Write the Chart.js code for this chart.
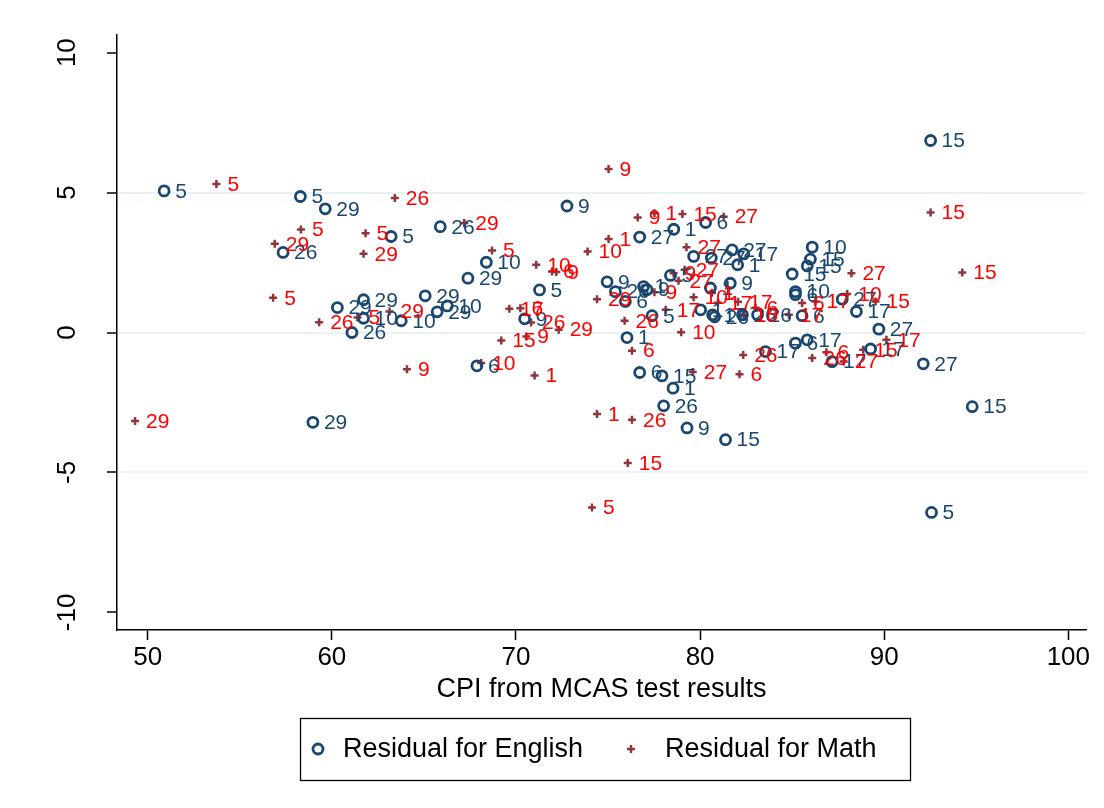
<!DOCTYPE html>
<html>
<head>
<meta charset="utf-8">
<script src="https://cdn.jsdelivr.net/npm/chart.js@4.4.0/dist/chart.umd.min.js"></script>
<style>
body { margin: 0; background: #fff; }
</style>
</head>
<body>
<canvas id="chart" width="1104" height="808"></canvas>
<script>
// English residuals (blue circles)
const engX = [50.89, 58.29, 59.64, 63.22, 65.89, 57.35, 60.30, 61.72, 61.72, 61.09,
  63.77, 65.07, 65.72, 66.27, 67.39, 68.39, 71.28, 70.47, 67.88, 58.97,
  72.77, 76.72, 78.57, 80.30, 74.95, 75.40, 75.94, 76.93, 77.12, 77.39,
  76.03, 76.72, 77.93, 78.53, 78.02, 79.29, 81.38, 79.65, 80.61, 81.74,
  82.37, 82.04, 78.39, 80.56, 81.64, 80.03, 80.68, 80.79, 82.30, 83.12,
  85.54, 85.18, 85.18, 86.09, 85.99, 85.82, 85.00, 87.72, 88.49, 89.71,
  89.26, 92.12, 94.78, 92.57, 92.52, 83.55, 85.18, 85.82, 87.17];
const engY = [5.06, 4.86, 4.42, 3.43, 3.78, 2.86, 0.89, 1.17, 0.51, 0.00,
  0.42, 1.31, 0.74, 0.95, 1.94, 2.51, 1.52, 0.49, -1.19, -3.21,
  4.52, 3.41, 3.69, 3.93, 1.81, 1.46, 1.11, 1.64, 1.53, 0.60,
  -0.18, -1.43, -1.55, -1.99, -2.62, -3.41, -3.83, 2.72, 2.66, 2.95,
  2.81, 2.42, 2.04, 1.59, 1.76, 0.81, 0.63, 0.56, 0.63, 0.63,
  0.60, 1.46, 1.35, 3.05, 2.62, 2.38, 2.09, 1.19, 0.75, 0.12,
  -0.59, -1.12, -2.65, -6.43, 6.86, -0.68, -0.38, -0.26, -1.04];
const engLbl = ['5', '5', '29', '5', '26', '26', '29', '29', '10', '26',
  '10', '29', '29', '10', '29', '10', '5', '9', '6', '29',
  '9', '27', '1', '6', '9', '26', '6', '1', '9', '5',
  '1', '6', '15', '1', '26', '9', '15', '27', '27', '27',
  '17', '1', '5', '1', '9', '1', '17', '26', '26', '26',
  '6', '10', '6', '10', '15', '15', '15', '27', '17', '27',
  '17', '27', '15', '5', '15', '17', '6', '17', '17'];

// Math residuals (red plus)
const mathX = [53.73, 63.42, 58.32, 61.83, 56.90, 61.72, 56.81, 59.31, 61.39, 63.13,
  64.08, 49.31, 67.19, 68.70, 71.10, 71.96, 72.19, 69.64, 70.24, 70.82,
  72.32, 69.20, 70.56, 68.11, 71.01, 75.03, 76.61, 77.52, 79.04, 81.28,
  75.03, 73.89, 79.26, 74.40, 75.90, 77.52, 78.13, 78.97, 76.30, 79.60,
  82.34, 82.14, 74.40, 76.30, 76.07, 74.13, 78.56, 79.16, 78.83, 79.65,
  80.65, 80.97, 82.06, 82.37, 83.01, 84.82, 85.54, 86.27, 87.99, 88.22,
  89.53, 94.24, 92.52, 90.12, 88.86, 86.09, 86.86, 87.80];
const mathY = [5.31, 4.81, 3.68, 3.55, 3.17, 2.81, 1.24, 0.37, 0.54, 0.75,
  -1.31, -3.16, 3.91, 2.93, 2.42, 2.18, 2.16, 0.85, 0.87, 0.36,
  0.10, -0.29, -0.14, -1.09, -1.54, 5.84, 4.11, 4.26, 4.23, 4.14,
  3.34, 2.89, 3.05, 1.19, 0.42, 1.44, 0.81, 0.01, -0.65, -1.41,
  -0.80, -1.49, -2.91, -3.12, -4.66, -6.25, 2.12, 2.24, 1.85, 1.26,
  1.42, 1.06, 1.10, 0.63, 0.88, 0.63, 1.05, 1.11, 1.38, 2.12,
  1.11, 2.14, 4.29, -0.26, -0.62, -0.91, -0.71, -1.04];
const mathLbl = ['5', '26', '5', '5', '29', '29', '5', '26', '5', '29',
  '9', '29', '29', '5', '10', '6', '9', '17', '6', '26',
  '29', '15', '9', '10', '1', '9', '9', '1', '15', '27',
  '1', '10', '27', '29', '26', '9', '17', '10', '6', '27',
  '26', '6', '1', '26', '15', '5', '9', '27', '27', '10',
  '1', '17', '17', '10', '6', '17', '6', '17', '10', '27',
  '15', '15', '15', '17', '15', '26', '6', '27'];

const xTicks = [50, 60, 70, 80, 90, 100];
const yTicks = [-10, -5, 0, 5, 10];

const navy = '#1a476f';
const maroon = '#90353b';
const font = '"Liberation Sans", Arial, sans-serif';

const pointLabels = {
  id: 'pointLabels',
  afterDatasetsDraw(chart) {
    const ctx = chart.ctx;
    ctx.save();
    ctx.font = '21px ' + font;
    ctx.textBaseline = 'middle';
    chart.data.datasets.forEach((ds, i) => {
      ctx.fillStyle = ds.labelColor;
      chart.getDatasetMeta(i).data.forEach((pt, j) => {
        ctx.fillText(ds.pointText[j], pt.x + 11, pt.y + 1);
      });
    });
    ctx.restore();
  }
};

const extras = {
  id: 'extras',
  afterDraw(chart) {
    const ctx = chart.ctx;
    const y = chart.scales.y;
    ctx.save();
    // rotated y tick labels
    ctx.fillStyle = '#000';
    ctx.font = '26px ' + font;
    ctx.textAlign = 'center';
    ctx.textBaseline = 'middle';
    yTicks.forEach(v => {
      ctx.save();
      ctx.translate(68, y.getPixelForValue(v));
      ctx.rotate(-Math.PI / 2);
      ctx.fillText(String(v), 0, 0);
      ctx.restore();
    });
    // legend box
    ctx.strokeStyle = '#000';
    ctx.lineWidth = 1.3;
    ctx.strokeRect(300.5, 718.5, 610, 62);
    ctx.lineWidth = 2.8;
    ctx.strokeStyle = navy;
    ctx.beginPath();
    ctx.arc(318, 749, 5, 0, Math.PI * 2);
    ctx.stroke();
    ctx.lineWidth = 2.5;
    ctx.strokeStyle = maroon;
    ctx.beginPath();
    ctx.moveTo(627, 749); ctx.lineTo(635, 749);
    ctx.moveTo(631, 745); ctx.lineTo(631, 753);
    ctx.stroke();
    ctx.fillStyle = '#000';
    ctx.font = '27px ' + font;
    ctx.textAlign = 'left';
    ctx.fillText(chart.data.datasets[0].label, 343, 750);
    ctx.fillText(chart.data.datasets[1].label, 665, 750);
    ctx.restore();
  }
};

new Chart(document.getElementById('chart'), {
  type: 'scatter',
  data: {
    datasets: [
      {
        label: 'Residual for English',
        data: engX.map((x, i) => ({ x: x, y: engY[i] })),
        pointText: engLbl,
        labelColor: navy,
        pointStyle: 'circle',
        pointRadius: 5,
        pointBorderWidth: 2.8,
        borderColor: navy,
        backgroundColor: 'rgba(0,0,0,0)'
      },
      {
        label: 'Residual for Math',
        data: mathX.map((x, i) => ({ x: x, y: mathY[i] })),
        pointText: mathLbl,
        labelColor: '#ff0000',
        pointStyle: 'cross',
        pointRadius: 4,
        pointBorderWidth: 2.5,
        borderColor: maroon,
        backgroundColor: maroon
      }
    ]
  },
  options: {
    responsive: false,
    animation: false,
    devicePixelRatio: 1,
    layout: { padding: { top: 35, right: 18, left: 0, bottom: 98 } },
    plugins: {
      legend: { display: false },
      tooltip: { enabled: false }
    },
    scales: {
      x: {
        type: 'linear',
        min: 48.33,
        max: 100.96,
        afterBuildTicks: s => { s.ticks = xTicks.map(v => ({ value: v })); },
        afterFit: s => { s.height = 80; },
        border: { color: '#000', width: 1.5 },
        grid: { drawOnChartArea: false, drawTicks: true, tickLength: 10, tickColor: '#000', tickWidth: 1.5 },
        ticks: { color: '#000', font: { size: 26, family: font }, padding: 2, maxRotation: 0, autoSkip: false },
        title: {
          display: true,
          text: 'CPI from MCAS test results',
          color: '#000',
          font: { size: 27, family: font },
          padding: { top: 0, bottom: 4 }
        }
      },
      y: {
        type: 'linear',
        min: -10.63,
        max: 10.63,
        afterBuildTicks: s => { s.ticks = yTicks.map(v => ({ value: v })); },
        afterFit: s => { s.width = 117; },
        border: { color: '#000', width: 1.5 },
        grid: {
          color: c => Math.abs(c.tick.value) === 10 ? 'rgba(0,0,0,0)' : '#eaf2f3',
          lineWidth: 2,
          drawTicks: true,
          tickLength: 10,
          tickColor: '#000',
          tickWidth: 1.5
        },
        ticks: { display: false }
      }
    }
  },
  plugins: [pointLabels, extras]
});
</script>
</body>
</html>
